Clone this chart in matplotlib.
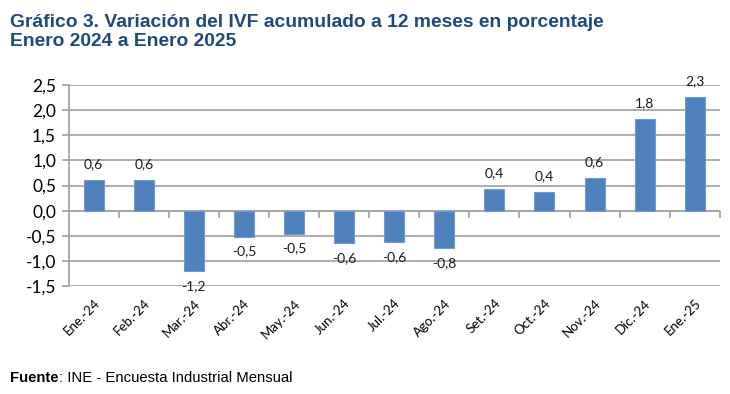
import matplotlib
matplotlib.use("Agg")
import matplotlib.pyplot as plt
import numpy as np

meses = ["Ene.-24", "Feb.-24", "Mar.-24", "Abr.-24", "May.-24", "Jun.-24", "Jul.-24",
         "Ago.-24", "Set.-24", "Oct.-24", "Nov.-24", "Dic.-24", "Ene.-25"]
valores = [0.62, 0.61, -1.21, -0.53, -0.47, -0.65, -0.63, -0.75, 0.43, 0.37, 0.65, 1.82, 2.26]
etiquetas = ["0,6", "0,6", "-1,2", "-0,5", "-0,5", "-0,6", "-0,6", "-0,8", "0,4", "0,4", "0,6", "1,8", "2,3"]
yticks = [-1.5, -1.0, -0.5, 0.0, 0.5, 1.0, 1.5, 2.0, 2.5]

azul = "#4F81BD"
gris = "#A6A6A6"

fig = plt.figure(figsize=(7.3, 3.94), dpi=100)
ax = fig.add_axes([0.094, 0.274, 0.892, 0.51])

x = np.arange(len(meses))
ax.bar(x, valores, width=0.4, color=azul, edgecolor="#6F9BD0", linewidth=0.8, zorder=3)

for xi, v, t in zip(x, valores, etiquetas):
    if v >= 0:
        ax.annotate(t, (xi, v), xytext=(0, 7), textcoords="offset points",
                    ha="center", va="bottom", fontsize=10, family="Lato", color="#1a1a1a")
    else:
        ax.annotate(t, (xi, v), xytext=(0, -6), textcoords="offset points",
                    ha="center", va="top", fontsize=10, family="Lato", color="#1a1a1a")

ax.set_xlim(-0.5, len(meses) - 0.5)
ax.set_ylim(-1.5, 2.5)
ax.set_yticks(yticks)
ax.set_yticklabels([f"{t:.1f}".replace(".", ",") for t in yticks], fontsize=12.5, family="Lato")
ax.yaxis.grid(True, color=gris, linewidth=1.3, zorder=0)
ax.axhline(0, color=gris, linewidth=1.3, zorder=2)
ax.tick_params(axis="y", length=5, width=1.3, color=gris, pad=4)

ax.set_xticks(x)
ax.set_xticklabels(meses, rotation=45, ha="right", rotation_mode="anchor",
                   fontsize=9.5, family="Lato")
ax.tick_params(axis="x", length=0, pad=8)

# marcas del eje de categorias en el cero
sec = ax.secondary_xaxis(0.375)
sec.set_xticks(np.arange(0.5, len(meses) + 0.5, 1.0))
sec.set_xticklabels([])
sec.tick_params(length=5, width=1.3, color=gris)
sec.spines["bottom"].set_visible(False)

for s in ["top", "right", "bottom"]:
    ax.spines[s].set_visible(False)
ax.spines["left"].set_color(gris)
ax.spines["left"].set_linewidth(1.3)

fig.text(0.014, 0.965, "Gráfico 3. Variación del IVF acumulado a 12 meses en porcentaje\nEnero 2024 a Enero 2025",
         ha="left", va="top", fontsize=13.9, fontweight="bold", color="#1F497D",
         family="Liberation Sans", linespacing=1.2)

fig.text(0.014, 0.04, "Fuente", ha="left", va="center", fontsize=10.7, fontweight="bold",
         family="Liberation Sans")
fig.text(0.014 + 0.067, 0.04, ": INE - Encuesta Industrial Mensual", ha="left", va="center",
         fontsize=10.7, family="Liberation Sans")

fig.savefig("out.png", dpi=100)
